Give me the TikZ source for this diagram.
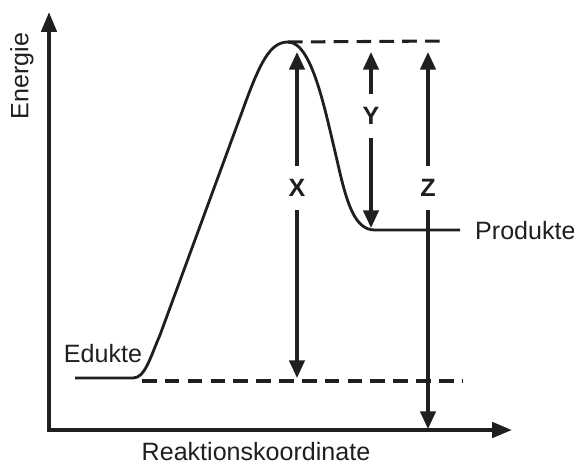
\documentclass[tikz,border=0pt]{standalone}
\usepackage{fontspec}
\setmainfont{Liberation Sans}
\usepackage{xcolor}
\usetikzlibrary{arrows.meta}

\definecolor{ink}{gray}{0.12}

\begin{document}
\begin{tikzpicture}[x=0.03cm, y=-0.03cm,
    axis/.style={line width=3.4pt, draw=ink},
    curve/.style={line width=2.4pt, draw=ink},
    guide/.style={line width=2.6pt, draw=ink, dash pattern=on 12.5pt off 7pt},
    dim/.style={line width=2.9pt, draw=ink, -{Triangle[length=15pt, width=13pt]}},
    txt/.style={font=\fontsize{21.4}{25}\selectfont, text=ink, inner sep=0pt},
    dimlbl/.style={font=\bfseries\fontsize{21.4}{25}\selectfont, text=ink, inner sep=0pt, minimum height=38pt, minimum width=20pt}]
    \useasboundingbox (0,0) rectangle (574,465);

    % Axes
    \coordinate (origin) at (49,430);
    \coordinate (ytip) at (49,12);
    \coordinate (xtip) at (512,430);
    \draw[axis, {Triangle[length=17pt, width=13pt]}-{Triangle[length=17pt, width=13pt]}]
        (ytip) -- (origin) -- (xtip);
    \node[txt, rotate=90] (energie) at (22,76) {Energie};
    \node[txt] (reaktion) at (256,452) {Reaktionskoordinate};

    % Energy profile
    \coordinate (start) at (75,378);
    \coordinate (peak) at (288,42);
    \coordinate (prod) at (460,230);
    \draw[curve] (start) -- (133,378)
        .. controls (145,378) and (150,358) .. (160,335)
        -- (242,112)
        .. controls (260,62) and (270,42) .. (peak)
        .. controls (312,42) and (325,110) .. (337,160)
        .. controls (347,205) and (355,230) .. (375,230)
        -- (prod);
    \node[txt] (edukte) at (103,354) {Edukte};
    \node[txt, anchor=west] (produkte) at (475,231) {Produkte};

    % Dashed levels
    \coordinate (lowA) at (142,381);
    \coordinate (lowB) at (462,381);
    \coordinate (highB) at (443,41);
    \draw[guide] (lowA) -- (lowB);
    \draw[guide] (peak) -- (highB);

    % Energy differences
    \node[dimlbl] (X) at (297,188) {X};
    \node[dimlbl] (Y) at (371,116) {Y};
    \node[dimlbl] (Z) at (428,188) {Z};
    \coordinate (xtop) at (297,52);
    \coordinate (xbot) at (297,378);
    \coordinate (ytop) at (371,52);
    \coordinate (ybot) at (371,228);
    \coordinate (ztop) at (428,52);
    \coordinate (zbot) at (428,429);
    \draw[dim] (X) -- (xtop);
    \draw[dim] (X) -- (xbot);
    \draw[dim] (Y) -- (ytop);
    \draw[dim] (Y) -- (ybot);
    \draw[dim] (Z) -- (ztop);
    \draw[dim] (Z) -- (zbot);
\end{tikzpicture}
\end{document}
